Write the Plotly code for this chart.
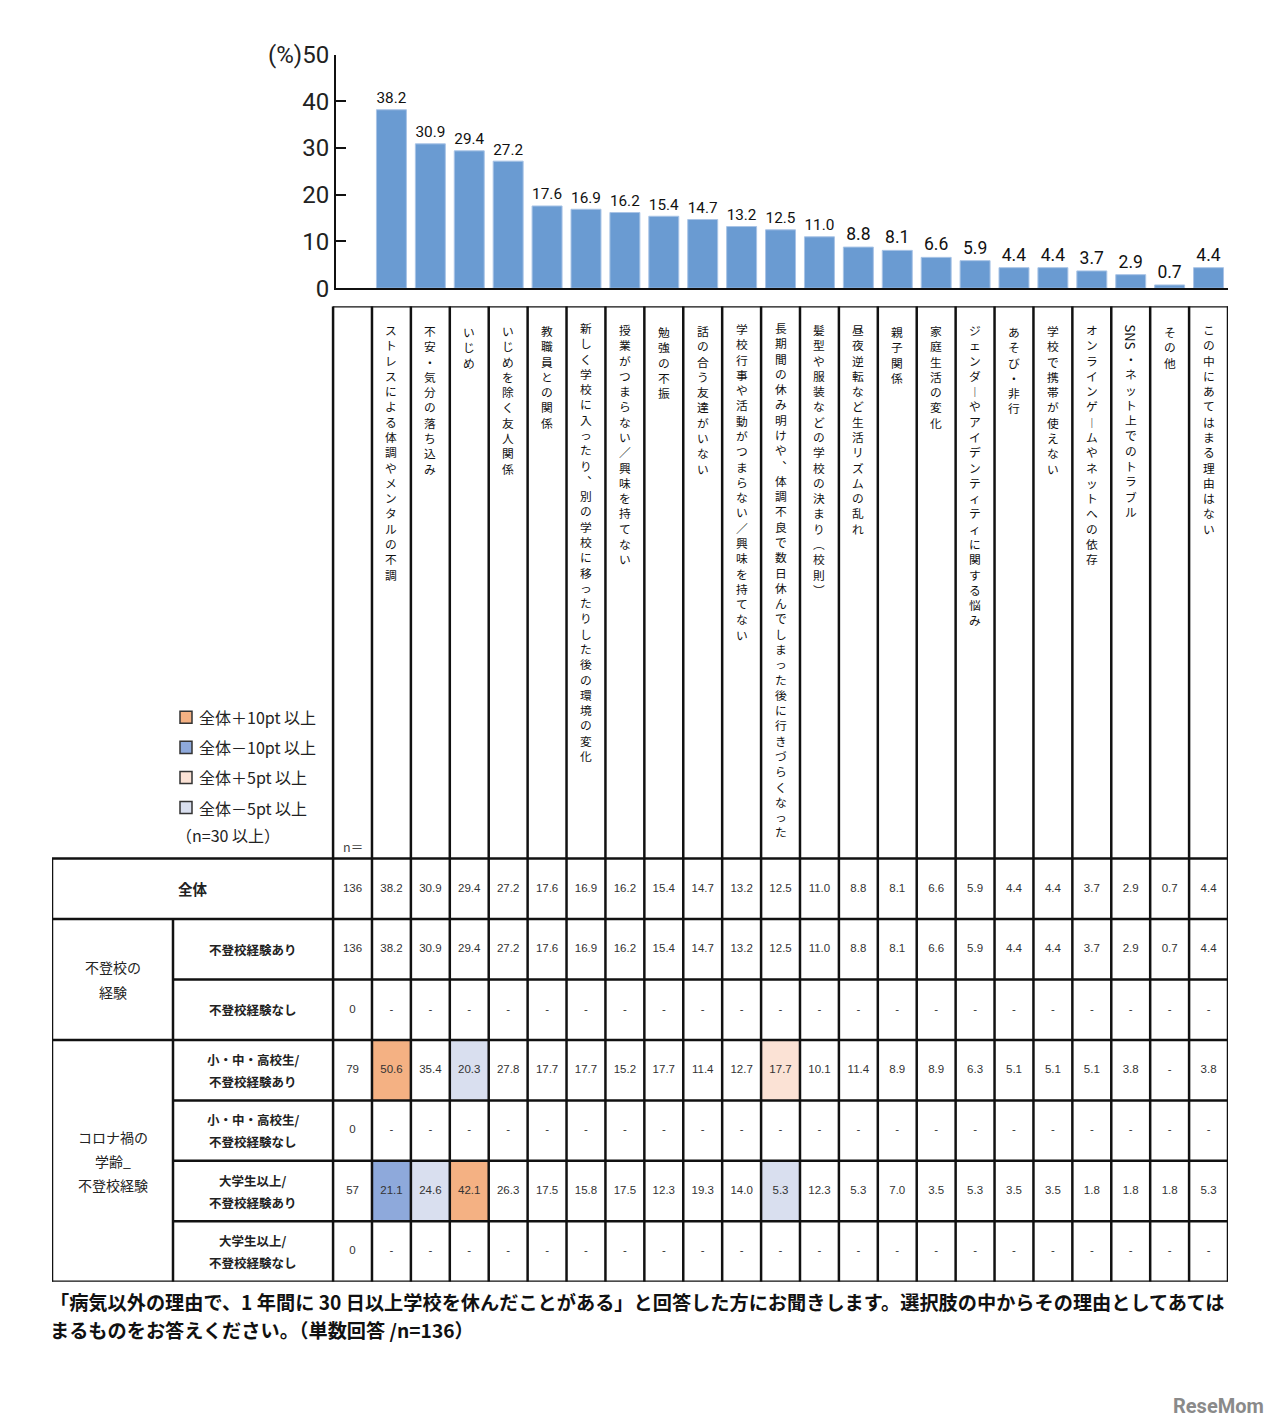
import plotly.graph_objects as go

# ---------------- data ----------------
categories = [
    "ストレスによる体調やメンタルの不調",
    "不安・気分の落ち込み",
    "いじめ",
    "いじめを除く友人関係",
    "教職員との関係",
    "新しく学校に入ったり、別の学校に移ったりした後の環境の変化",
    "授業がつまらない／興味を持てない",
    "勉強の不振",
    "話の合う友達がいない",
    "学校行事や活動がつまらない／興味を持てない",
    "長期間の休み明けや、体調不良で数日休んでしまった後に行きづらくなった",
    "髪型や服装などの学校の決まり（校則）",
    "昼夜逆転など生活リズムの乱れ",
    "親子関係",
    "家庭生活の変化",
    "ジェンダーやアイデンティティに関する悩み",
    "あそび・非行",
    "学校で携帯が使えない",
    "オンラインゲームやネットへの依存",
    "SNS・ネット上でのトラブル",
    "その他",
    "この中にあてはまる理由はない",
]
overall = [38.2, 30.9, 29.4, 27.2, 17.6, 16.9, 16.2, 15.4, 14.7, 13.2, 12.5,
           11.0, 8.8, 8.1, 6.6, 5.9, 4.4, 4.4, 3.7, 2.9, 0.7, 4.4]

y_ticks = [0, 10, 20, 30, 40, 50]
y_ticktext = ["0", "10", "20", "30", "40", "(%)50"]

row_all = [38.2, 30.9, 29.4, 27.2, 17.6, 16.9, 16.2, 15.4, 14.7, 13.2, 12.5,
           11.0, 8.8, 8.1, 6.6, 5.9, 4.4, 4.4, 3.7, 2.9, 0.7, 4.4]
row_futoko_yes = [38.2, 30.9, 29.4, 27.2, 17.6, 16.9, 16.2, 15.4, 14.7, 13.2, 12.5,
                  11.0, 8.8, 8.1, 6.6, 5.9, 4.4, 4.4, 3.7, 2.9, 0.7, 4.4]
row_futoko_no = [None] * 22
row_school_yes = [50.6, 35.4, 20.3, 27.8, 17.7, 17.7, 15.2, 17.7, 11.4, 12.7, 17.7,
                  10.1, 11.4, 8.9, 8.9, 6.3, 5.1, 5.1, 5.1, 3.8, None, 3.8]
row_school_no = [None] * 22
row_univ_yes = [21.1, 24.6, 42.1, 26.3, 17.5, 15.8, 17.5, 12.3, 19.3, 14.0, 5.3,
                12.3, 5.3, 7.0, 3.5, 5.3, 3.5, 3.5, 1.8, 1.8, 1.8, 5.3]
row_univ_no = [None] * 22

row_n = [136, 136, 0, 79, 0, 57, 0]
row_values = [row_all, row_futoko_yes, row_futoko_no, row_school_yes,
              row_school_no, row_univ_yes, row_univ_no]
row_sublabels = [None, ["不登校経験あり"], ["不登校経験なし"],
                 ["小・中・高校生/", "不登校経験あり"], ["小・中・高校生/", "不登校経験なし"],
                 ["大学生以上/", "不登校経験あり"], ["大学生以上/", "不登校経験なし"]]
groups = [("全体", 0, 1), (["不登校の", "経験"], 1, 3), (["コロナ禍の", "学齢_", "不登校経験"], 3, 7)]

legend_items = [("全体＋10pt 以上", "#F4B183"), ("全体－10pt 以上", "#8EA9DB"),
                ("全体＋5pt 以上", "#FBE2D5"), ("全体－5pt 以上", "#D9DFEF")]
legend_note = "（n=30 以上）"

footer1 = "「病気以外の理由で、1 年間に 30 日以上学校を休んだことがある」と回答した方にお聞きします。選択肢の中からその理由としてあては"
footer2 = "まるものをお答えください。（単数回答 /n=136）"

# ---------------- geometry ----------------
W, H = 1264, 1436
OFF_X = 8
S_Y, T_Y = 0.978, 24.0   # observed vertical mapping of the viewer
U = 38.91            # px per column
RH = 60.3            # px per table row
HDR = 551 / RH       # header height in row units
TOTAL = HDR + 7
JP = "Noto Sans CJK JP"
C_ORANGE, C_BLUE, C_PEACH, C_LAV = "#F4B183", "#8EA9DB", "#FBE2D5", "#D9DFEF"
LW = 2.5


def fx(px):
    return (px - OFF_X) / W


def fy(py):
    return 1 - (py / S_Y - T_Y) / H


X_RIGHT = 21.5
X_LEFT = X_RIGHT - (1228 - 52) / U
X_SPLIT = X_LEFT + (173 - 52) / U
X_NCOL = -1.5

fig = go.Figure()

fig.add_trace(go.Bar(
    x=list(range(len(categories))), y=overall, xaxis="x2", yaxis="y",
    marker=dict(color="#6A9BD2", line=dict(color="#A9C4E6", width=1)),
    width=0.77, text=[f"{v:.1f}" for v in overall], textposition="outside",
    textfont=dict(family="Roboto", size=17.5, color="#111"),
    cliponaxis=False, hoverinfo="skip",
))

shapes = []
annotations = []


def line(x0, y0, x1, y1, w=LW):
    shapes.append(dict(type="line", xref="x", yref="y2", x0=x0, y0=y0, x1=x1, y1=y1,
                       line=dict(color="#111", width=w)))


# highlighted cells
for r, vals in enumerate(row_values):
    if r < 3 or row_n[r] < 30:
        continue
    for i, v in enumerate(vals):
        if v is None:
            continue
        d = v - overall[i]
        col = None
        if d >= 10:
            col = C_ORANGE
        elif d <= -10:
            col = C_BLUE
        elif d >= 5:
            col = C_PEACH
        elif d <= -5:
            col = C_LAV
        if col:
            shapes.append(dict(type="rect", xref="x", yref="y2", x0=i - 0.5, x1=i + 0.5,
                               y0=HDR + r, y1=HDR + r + 1, fillcolor=col, line=dict(width=0),
                               layer="below"))

# vertical lines
for k in range(len(categories) + 2):
    xv = X_NCOL + k
    line(xv, 0, xv, TOTAL)
line(X_NCOL, 0, X_RIGHT, 0)
line(X_LEFT, HDR, X_LEFT, TOTAL)
line(X_SPLIT, HDR + 1, X_SPLIT, TOTAL)
# horizontal lines
full_rows = {0, 1, 3, 7}
for r in range(8):
    xs = X_LEFT if r in full_rows else X_SPLIT
    line(xs, HDR + r, X_RIGHT, HDR + r)

# vertical category labels: stacked glyphs, one annotation per run
vert_map = {"ー": "︱", "、": "︑", "（": "︵", "）": "︶"}
PITCH = 14.95                # px between glyph centres (reference px)
VSIZE = PITCH / 1.3 / S_Y    # font size whose line spacing equals the pitch
TOP_PX = 325.0               # first glyph top (reference px)


def segments(label):
    segs, cur, cur_ascii = [], "", None
    for ch in label:
        a = ch.isascii() and ch.isalnum()
        if cur and a != cur_ascii:
            segs.append((cur, cur_ascii))
            cur = ""
        cur += ch
        cur_ascii = a
    if cur:
        segs.append((cur, cur_ascii))
    return segs


for i, label in enumerate(categories):
    cursor = TOP_PX - 307
    for seg, is_ascii in segments(label):
        if is_ascii:
            h = len(seg) * 13 * 0.66
            annotations.append(dict(xref="x", yref="y2", x=i, y=(cursor + h / 2) / RH,
                                    text=seg, textangle=90, showarrow=False,
                                    font=dict(family=JP, size=13, color="#111")))
            cursor += h + 2
        else:
            h = len(seg) * PITCH
            annotations.append(dict(xref="x", yref="y2", x=i, y=(cursor + h / 2) / RH,
                                    yanchor="middle",
                                    text="<br>".join(vert_map.get(c, c) for c in seg),
                                    showarrow=False, align="center",
                                    font=dict(family=JP, size=VSIZE, color="#111")))
            cursor += h

annotations.append(dict(xref="x", yref="y2", x=-1, y=HDR - 12 / RH, text="n＝", showarrow=False,
                        font=dict(family=JP, size=12.5, color="#444")))


def multiline(lines, xc, yc, size, weight, spacing_px):
    n = len(lines)
    for j, t in enumerate(lines):
        off = (j - (n - 1) / 2) * spacing_px
        annotations.append(dict(xref="x", yref="y2", x=xc, y=yc + off / RH, text=t,
                                showarrow=False, font=dict(family=JP, size=size, color="#222",
                                                           weight=weight)))


# row / group labels
for lab, r0, r1 in groups:
    yc = HDR + (r0 + r1) / 2
    if isinstance(lab, str):
        multiline([lab], (X_LEFT + X_NCOL) / 2, yc, 14.5, "bold", 0)
    else:
        multiline(lab, (X_LEFT + X_SPLIT) / 2, yc, 14, "normal", 24)
for r, sub in enumerate(row_sublabels):
    if sub:
        multiline(sub, (X_SPLIT + X_NCOL) / 2, HDR + r + 0.5, 12.5, "bold", 22)

# cell numbers
tx, ty, tt = [], [], []
for r, vals in enumerate(row_values):
    tx.append(-1)
    ty.append(HDR + r + 0.5)
    tt.append(str(row_n[r]))
    for i, v in enumerate(vals):
        tx.append(i)
        ty.append(HDR + r + 0.5)
        tt.append("-" if v is None else f"{v:.1f}")
fig.add_trace(go.Scatter(x=tx, y=ty, text=tt, mode="text", xaxis="x", yaxis="y2",
                         textfont=dict(family="Liberation Sans", size=11.5, color="#333"),
                         hoverinfo="skip", cliponaxis=False))

# legend
for j, (lab, col) in enumerate(legend_items):
    yc = 717 + 30 * j
    shapes.append(dict(type="rect", xref="paper", yref="paper", x0=fx(180), x1=fx(192),
                       y0=fy(yc + 6), y1=fy(yc - 6), fillcolor=col,
                       line=dict(color="#333", width=1.5)))
    annotations.append(dict(xref="paper", yref="paper", x=fx(197), y=fy(yc), xanchor="left",
                            yanchor="middle", text=lab, showarrow=False,
                            font=dict(family=JP, size=16, color="#222")))
annotations.append(dict(xref="paper", yref="paper", x=fx(174), y=fy(834), xanchor="left",
                        yanchor="middle", text=legend_note, showarrow=False,
                        font=dict(family=JP, size=16, color="#222")))

# footer
for k, t in enumerate([footer1, footer2]):
    annotations.append(dict(xref="paper", yref="paper", x=fx(48), y=fy(1300 + 28 * k),
                            xanchor="left", yanchor="middle", text=t, showarrow=False,
                            font=dict(family=JP, size=19.2, color="#111", weight="bold")))
annotations.append(dict(xref="paper", yref="paper", x=fx(1266), y=fy(1404), xanchor="right",
                        yanchor="middle", text="ReseMom", showarrow=False,
                        font=dict(family="Roboto", size=20, color="#8a8a8a", weight="bold")))

fig.update_layout(
    width=W, height=H, margin=dict(l=0, r=0, t=0, b=0),
    paper_bgcolor="white", plot_bgcolor="rgba(0,0,0,0)", showlegend=False,
    xaxis=dict(domain=[fx(52), fx(1228)], range=[X_LEFT, X_RIGHT], anchor="y2",
               visible=False, fixedrange=True),
    yaxis2=dict(domain=[fy(1280), fy(307)], range=[TOTAL, 0], anchor="x",
                visible=False, fixedrange=True),
    xaxis2=dict(domain=[fx(336), fx(1228)], range=[X_RIGHT - (1228 - 336) / U, X_RIGHT],
                anchor="y", showline=True, linecolor="#111", linewidth=2,
                showticklabels=False, ticks="", showgrid=False, zeroline=False),
    yaxis=dict(domain=[fy(289), fy(56)], range=[0, 50], anchor="x2", showline=True,
               linecolor="#111", linewidth=2, ticks="inside", ticklen=10, tickwidth=2,
               tickcolor="#111", tickvals=y_ticks, ticktext=y_ticktext, showgrid=False,
               zeroline=False, tickfont=dict(family="Roboto", size=24, color="#222")),
    shapes=shapes, annotations=annotations,
)

fig.write_html("out.html")
